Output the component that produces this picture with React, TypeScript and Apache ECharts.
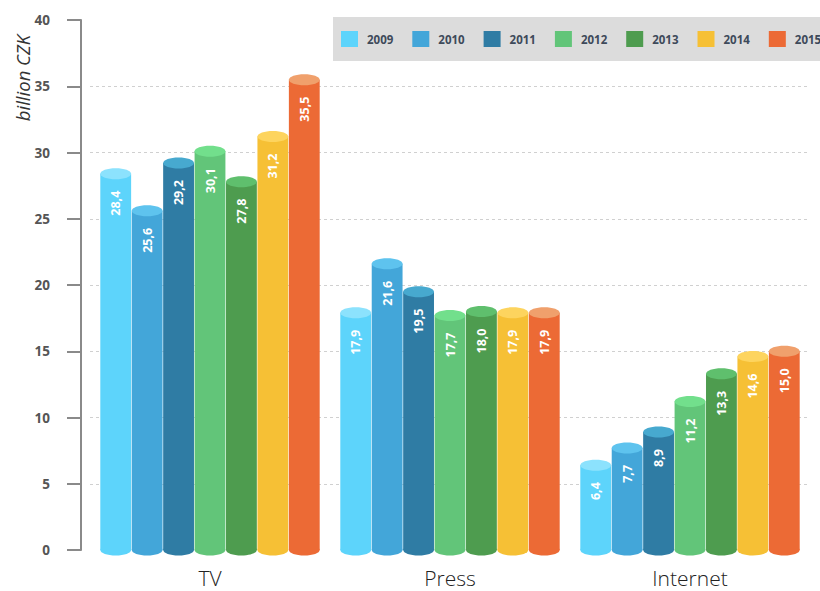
import React, { useEffect, useRef } from "react";
import * as echarts from "echarts";

// Media advertising spend, billion CZK
const categories = ["TV", "Press", "Internet"];
const years = ["2009", "2010", "2011", "2012", "2013", "2014", "2015"];
const values2009 = [28.4, 17.9, 6.4];
const values2010 = [25.6, 21.6, 7.7];
const values2011 = [29.2, 19.5, 8.9];
const values2012 = [30.1, 17.7, 11.2];
const values2013 = [27.8, 18.0, 13.3];
const values2014 = [31.2, 17.9, 14.6];
const values2015 = [35.5, 17.9, 15.0];
const seriesValues = [values2009, values2010, values2011, values2012, values2013, values2014, values2015];

const bodyColors = ["#5dd4fb", "#43a6d9", "#2f7ca4", "#62c579", "#4e9c4f", "#f6c035", "#ec6a35"];
const capColors = ["#8ce2fd", "#5ec3ee", "#47a9cf", "#72df8c", "#5fbf6d", "#fdd45e", "#f0a06c"];

const GROUP_RATIO = 220 / 240;
const CAP_RY = 5.5;

const fmt = (v: number) => v.toFixed(1).replace(".", ",");

export default function App() {
  const ref = useRef<HTMLDivElement>(null);

  useEffect(() => {
    if (!ref.current) return;
    const chart = echarts.init(ref.current, null, { renderer: "svg" });

    const series = years.map((year, si) => ({
      name: year,
      type: "custom",
      itemStyle: { color: bodyColors[si] },
      data: seriesValues[si].map((v, ci) => [ci, v]),
      renderItem: (params: any, api: any) => {
        const cat = api.value(0);
        const val = api.value(1);
        const top = api.coord([cat, val]);
        const base = api.coord([cat, 0]);
        const band = api.size([1, 0])[0];
        const groupW = band * GROUP_RATIO;
        const barW = groupW / years.length;
        const cx = top[0] - groupW / 2 + params.seriesIndex * barW + barW / 2;
        const rx = barW / 2 - 0.3;
        return {
          type: "group",
          children: [
            { type: "ellipse", shape: { cx, cy: base[1], rx, ry: CAP_RY }, style: { fill: bodyColors[params.seriesIndex] } },
            {
              type: "rect",
              shape: { x: cx - rx, y: top[1], width: rx * 2, height: base[1] - top[1] },
              style: { fill: bodyColors[params.seriesIndex] },
            },
            { type: "ellipse", shape: { cx, cy: top[1], rx, ry: CAP_RY }, style: { fill: capColors[params.seriesIndex] } },
            {
              type: "text",
              x: cx,
              y: top[1] + 17,
              rotation: Math.PI / 2,
              style: {
                text: fmt(val),
                fill: "#ffffff",
                font: "bold 12.5px 'Open Sans', sans-serif",
                align: "right",
                verticalAlign: "middle",
              },
            },
          ],
        };
      },
    }));

    chart.setOption({
      animation: false,
      backgroundColor: "#ffffff",
      legend: {
        left: 333,
        top: 17,
        padding: [14, 8, 14, 8],
        backgroundColor: "#dcdcdc",
        icon: "rect",
        itemWidth: 17,
        itemHeight: 16,
        itemGap: 19,
        data: years,
        textStyle: {
          fontFamily: "'Open Sans', sans-serif",
          fontWeight: "bold",
          fontSize: 11.5,
          color: "#3e4a5a",
          padding: [0, 0, 0, 4],
        },
      },
      grid: { left: 90, right: 70, top: 20, bottom: 41 },
      xAxis: {
        type: "category",
        data: categories,
        axisLine: { show: false },
        axisTick: { show: false },
        axisLabel: {
          margin: 17,
          fontSize: 21,
          lineHeight: 21,
          fontFamily: "'Open Sans', sans-serif",
          fontWeight: 300,
          color: "#222",
        },
      },
      yAxis: {
        type: "value",
        min: 0,
        max: 40,
        interval: 5,
        offset: 9,
        axisLine: { show: true, lineStyle: { color: "#8a8a8a", width: 2 } },
        axisTick: { show: true, length: 14, lineStyle: { color: "#8a8a8a", width: 2 } },
        axisLabel: {
          margin: 31,
          fontSize: 13.5,
          fontWeight: "bold",
          fontFamily: "'Open Sans', sans-serif",
          color: "#555",
        },
        splitLine: {
          show: true,
          showMinLine: false,
          showMaxLine: false,
          lineStyle: { color: "#d0d0d0", type: [3, 3], width: 1 },
        },
      },
      graphic: [
        {
          type: "text",
          x: 22,
          y: 78,
          rotation: Math.PI / 2,
          style: {
            text: "billion CZK",
            font: "italic 18.5px 'Open Sans', sans-serif",
            fill: "#333",
            align: "center",
            verticalAlign: "middle",
          },
        },
      ],
      series,
    });

    return () => chart.dispose();
  }, []);

  return (
    <div style={{ position: "absolute", left: 0, top: 0, width: 820, height: 591, overflow: "hidden" }}>
      <div ref={ref} style={{ width: 880, height: 591 }} />
    </div>
  );
}
